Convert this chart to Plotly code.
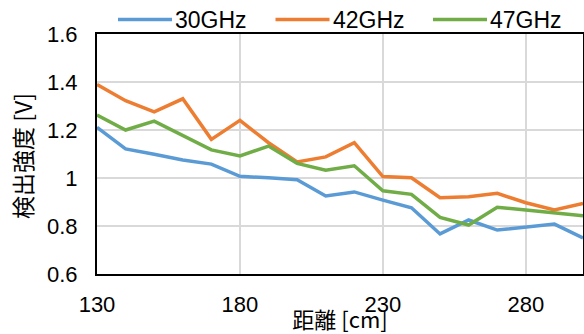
import plotly.graph_objects as go

distance_cm = [130, 140, 150, 160, 170, 180, 190, 200, 210, 220, 230, 240, 250, 260, 270, 280, 290, 300]
v_30ghz = [1.211, 1.121, 1.099, 1.075, 1.058, 1.007, 1.001, 0.993, 0.925, 0.942, 0.908, 0.876, 0.767, 0.825, 0.783, 0.794, 0.808, 0.750]
v_42ghz = [1.390, 1.322, 1.276, 1.330, 1.161, 1.240, 1.147, 1.067, 1.088, 1.147, 1.006, 1.001, 0.918, 0.922, 0.936, 0.897, 0.867, 0.894]
v_47ghz = [1.262, 1.200, 1.237, 1.179, 1.117, 1.092, 1.133, 1.061, 1.032, 1.051, 0.947, 0.932, 0.836, 0.804, 0.878, 0.867, 0.856, 0.843]

series_names = ["30GHz", "42GHz", "47GHz"]
series_values = [v_30ghz, v_42ghz, v_47ghz]
series_colors = ["#5B9BD5", "#ED7D31", "#70AD47"]

x_ticks = [130, 180, 230, 280]
y_ticks = [0.6, 0.8, 1.0, 1.2, 1.4, 1.6]
y_tick_labels = ["0.6", "0.8", "1", "1.2", "1.4", "1.6"]

W, H = 584, 334
ML, MR, MT, MB = 97, 1, 34, 60
PW = W - ML - MR
PH = H - MT - MB

font_main = "Liberation Sans, Arial, sans-serif"
font_cjk = "Noto Sans CJK JP, Liberation Sans, sans-serif"

fig = go.Figure()
for name, vals, col in zip(series_names, series_values, series_colors):
    fig.add_trace(go.Scatter(x=distance_cm, y=vals, name=name, mode="lines",
                             line=dict(color=col, width=3.5), showlegend=False))

def px_x(px):
    return (px - ML) / PW

def px_y(py):
    return (H - MB - py) / PH

# manual legend (Excel-style, long line samples) at the top
legend_start_px = 118
legend_step_px = 157.5
legend_line_len = 54
legend_y_px = 19.5
shapes = []
annotations = []
for i, (name, col) in enumerate(zip(series_names, series_colors)):
    x0 = legend_start_px + i * legend_step_px
    shapes.append(dict(type="line", xref="paper", yref="paper",
                       x0=px_x(x0), x1=px_x(x0 + legend_line_len),
                       y0=px_y(legend_y_px), y1=px_y(legend_y_px),
                       line=dict(color=col, width=3.5)))
    annotations.append(dict(xref="paper", yref="paper", x=px_x(x0 + legend_line_len + 1),
                            y=px_y(legend_y_px + 0.5), xanchor="left", yanchor="middle",
                            text=name, showarrow=False,
                            font=dict(family=font_main, size=23, color="#000000")))

# y-axis title
annotations.append(dict(xref="paper", yref="paper", x=px_x(22), y=px_y(156),
                        xanchor="center", yanchor="middle", textangle=-90,
                        text="検出強度 [V]", showarrow=False,
                        font=dict(family=font_cjk, size=23, color="#000000")))

fig.update_layout(
    width=W, height=H,
    margin=dict(l=ML, r=MR, t=MT, b=MB, autoexpand=False),
    paper_bgcolor="white", plot_bgcolor="white",
    font=dict(family=font_main, size=22, color="#000000"),
    showlegend=False,
    shapes=shapes,
    annotations=annotations,
    xaxis=dict(range=[130, 300], tickvals=x_ticks, ticktext=[str(t) for t in x_ticks],
               showgrid=True, gridcolor="#d9d9d9", gridwidth=1.5,
               showline=True, linecolor="#000000", linewidth=2, mirror=True,
               ticks="", ticklabelstandoff=10, zeroline=False,
               tickfont=dict(family=font_main, size=22),
               title=dict(text="距離 [cm]", font=dict(family=font_cjk, size=22), standoff=0)),
    yaxis=dict(range=[0.6, 1.6], tickvals=y_ticks, ticktext=y_tick_labels,
               showgrid=True, gridcolor="#d9d9d9", gridwidth=1.5,
               showline=True, linecolor="#000000", linewidth=2, mirror=True,
               ticks="", ticklabelstandoff=13, zeroline=False,
               tickfont=dict(family=font_main, size=22)),
)

fig.write_html("out.html", config={"displayModeBar": False},
               post_script="document.body.style.margin='0';document.body.style.overflow='hidden';")
